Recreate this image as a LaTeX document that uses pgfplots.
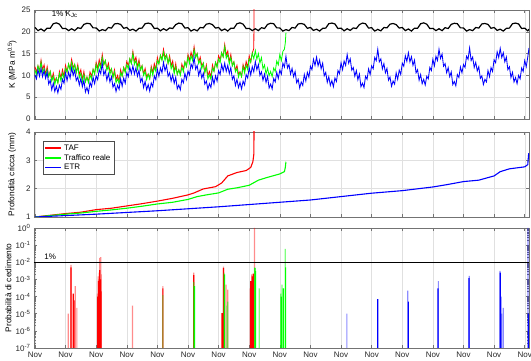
\documentclass[border=0pt]{standalone}
\usepackage{pgfplots}
\pgfplotsset{compat=1.18}
\usepackage{fontspec}
\setmainfont{Liberation Sans}
\definecolor{mygrid}{gray}{0.88}
\definecolor{myframe}{gray}{0.45}
\pgfplotsset{
  myax/.style={
    scale only axis, width=495pt, xmin=-0.03, xmax=16.14,
    xtick={0,...,16},
    xmajorgrids, major grid style={mygrid, line width=0.4pt},
    axis line style={myframe, line width=0.5pt},
    tick style={myframe, line width=0.5pt},
    major tick length=3pt, minor tick length=1.6pt,
    tick align=inside,
    tick label style={font=\fontsize{8}{9}\selectfont, black!85},
    label style={font=\fontsize{8.3}{9}\selectfont},
    /pgf/number format/assume math mode=true,
    clip=true,
  },
}
\begin{document}
\begin{tikzpicture}
\useasboundingbox (0,0) rectangle (531pt,361pt);
% ---------------- panel 1 ----------------
\begin{axis}[myax, at={(34pt,351pt)}, anchor=north west, height=109pt,
  ymin=0, ymax=25, ytick={0,5,...,25}, ymajorgrids, xticklabels={},
  ylabel={K (MPa m\textsuperscript{0.5})},
  ylabel style={at={(axis description cs:-0.044,0.5)}, anchor=center}]
\addplot[red, line width=0.8pt] table[row sep=\\] {
x y\\
0.0 12.0\\0.05 10.8\\0.1 12.2\\0.15 11.0\\0.2 13.5\\0.25 11.3\\0.3 12.4\\0.35 10.2\\0.4 12.0\\0.45 9.8\\
0.5 10.9\\0.55 9.0\\0.6 10.5\\0.65 8.6\\0.7 9.4\\0.75 8.3\\0.8 10.9\\0.85 9.4\\0.9 11.3\\0.95 9.8\\
1.0 12.3\\1.05 10.8\\1.1 12.6\\1.15 11.5\\1.2 13.7\\1.25 11.8\\1.3 12.5\\1.35 10.7\\1.4 12.5\\1.45 10.2\\
1.5 11.3\\1.55 9.0\\1.6 10.9\\1.65 8.6\\1.7 9.6\\1.75 8.6\\1.8 10.8\\1.85 9.8\\1.9 11.4\\1.95 10.4\\
2.0 13.0\\2.05 11.6\\2.1 13.6\\2.15 12.1\\2.2 14.8\\2.25 12.5\\2.3 13.4\\2.35 11.5\\2.4 12.8\\2.45 10.9\\
2.5 11.5\\2.55 9.6\\2.6 11.3\\2.65 9.0\\2.7 10.0\\2.75 8.6\\2.8 11.3\\2.85 9.9\\2.9 11.8\\2.95 10.9\\
3.0 13.2\\3.05 12.2\\3.1 13.8\\3.15 12.8\\3.2 15.5\\3.25 13.2\\3.3 14.2\\3.35 11.9\\3.4 13.6\\3.45 11.3\\
3.5 12.2\\3.55 10.3\\3.6 11.6\\3.65 9.7\\3.7 10.3\\3.75 9.3\\3.8 12.1\\3.85 10.7\\3.9 12.7\\3.95 11.4\\
4.0 14.1\\4.05 12.7\\4.1 14.6\\4.15 13.7\\4.2 16.0\\4.25 14.1\\4.3 14.7\\4.35 12.8\\4.4 14.5\\4.45 12.2\\
4.5 13.3\\4.55 10.9\\4.6 12.7\\4.65 10.3\\4.7 11.3\\4.75 10.3\\4.8 12.6\\4.85 11.5\\4.9 13.1\\4.95 12.1\\
5.0 14.8\\5.05 13.4\\5.1 15.3\\5.15 13.9\\5.2 16.6\\5.25 14.2\\5.3 15.0\\5.35 13.0\\5.4 14.2\\5.45 12.2\\
5.5 12.8\\5.55 10.7\\5.6 12.4\\5.65 9.9\\5.7 10.9\\5.75 9.6\\5.8 12.4\\5.85 11.0\\5.9 13.0\\5.95 12.1\\
6.0 14.5\\6.05 13.6\\6.1 15.2\\6.15 14.3\\6.2 17.1\\6.25 14.6\\6.3 15.6\\6.35 13.1\\6.4 14.8\\6.45 12.3\\
6.5 13.1\\6.55 11.1\\6.6 12.3\\6.65 10.3\\6.7 10.8\\6.75 9.8\\6.8 12.5\\6.85 11.2\\6.9 13.2\\6.95 11.8\\
7.0 14.5\\7.05 13.1\\7.1 15.1\\7.15 16.2\\7.16 26\\
};
\addplot[green, line width=0.8pt] table[row sep=\\] {
x y\\
0.0 11.3\\0.05 10.1\\0.1 12.2\\0.15 10.9\\0.2 13.0\\0.25 10.6\\0.3 11.6\\0.35 9.7\\0.4 11.3\\0.45 9.7\\
0.5 10.9\\0.55 8.7\\0.6 9.8\\0.65 7.9\\0.7 9.4\\0.75 8.2\\0.8 10.4\\0.85 8.7\\0.9 10.5\\0.95 9.3\\
1.0 11.6\\1.05 10.7\\1.1 12.6\\1.15 11.2\\1.2 13.0\\1.25 11.1\\1.3 12.5\\1.35 10.6\\1.4 12.0\\1.45 9.5\\
1.5 10.5\\1.55 8.5\\1.6 10.2\\1.65 8.5\\1.7 9.6\\1.75 8.3\\1.8 10.1\\1.85 9.1\\1.9 11.4\\1.95 10.3\\
2.0 12.5\\2.05 10.9\\2.1 12.8\\2.15 11.6\\2.2 14.1\\2.25 12.4\\2.3 13.4\\2.35 11.2\\2.4 12.1\\2.45 10.2\\
2.5 11.5\\2.55 9.5\\2.6 10.8\\2.65 8.3\\2.7 9.2\\2.75 8.1\\2.8 10.6\\2.85 9.8\\2.9 11.8\\2.95 10.6\\
3.0 12.5\\3.05 11.5\\3.1 13.8\\3.15 12.7\\3.2 15.0\\3.25 12.5\\3.3 13.4\\3.35 11.4\\3.4 12.9\\3.45 11.2\\
3.5 12.2\\3.55 10.0\\3.6 10.9\\3.65 9.0\\3.7 10.3\\3.75 9.2\\3.8 11.6\\3.85 10.0\\3.9 11.9\\3.95 10.9\\
4.0 13.4\\4.05 12.6\\4.1 14.6\\4.15 13.4\\4.2 15.3\\4.25 13.4\\4.3 14.7\\4.35 12.7\\4.4 14.0\\4.45 11.5\\
4.5 12.5\\4.55 10.4\\4.6 12.0\\4.65 10.2\\4.7 11.3\\4.75 10.0\\4.8 11.9\\4.85 10.8\\4.9 13.1\\4.95 12.0\\
5.0 14.3\\5.05 12.7\\5.1 14.5\\5.15 13.4\\5.2 15.9\\5.25 14.1\\5.3 15.0\\5.35 12.7\\5.4 13.5\\5.45 11.5\\
5.5 12.8\\5.55 10.6\\5.6 11.9\\5.65 9.2\\5.7 10.1\\5.75 9.1\\5.8 11.7\\5.85 10.9\\5.9 13.0\\5.95 11.8\\
6.0 13.8\\6.05 12.9\\6.1 15.2\\6.15 14.2\\6.2 16.6\\6.25 13.9\\6.3 14.8\\6.35 12.6\\6.4 14.1\\6.45 12.2\\
6.5 13.1\\6.55 10.8\\6.6 11.6\\6.65 9.6\\6.7 10.8\\6.75 9.7\\6.8 12.0\\6.85 10.5\\6.9 12.4\\6.95 11.3\\
7.0 13.8\\7.05 13.0\\7.1 15.1\\7.15 13.8\\7.2 15.7\\7.25 13.7\\7.3 15.0\\7.35 12.8\\7.4 14.1\\7.45 11.5\\
7.5 12.4\\7.55 10.3\\7.6 11.7\\7.65 9.9\\7.7 10.9\\7.75 9.7\\7.8 11.7\\7.85 10.9\\7.9 13.3\\7.95 12.4\\
8.0 14.8\\8.05 13.4\\8.1 15.5\\8.15 16.0\\8.18 17.5\\8.2 19.8\\
};
\addplot[blue, line width=0.85pt] table[row sep=\\] {
x y\\
0.0 10.1\\0.05 9.2\\0.1 11.3\\0.15 9.8\\0.2 11.6\\0.25 9.7\\0.3 11.1\\0.35 9.3\\0.4 10.7\\0.45 8.0\\
0.5 8.9\\0.55 6.7\\0.6 8.2\\0.65 6.3\\0.7 7.5\\0.75 6.0\\0.8 7.7\\0.85 6.8\\0.9 9.1\\0.95 8.2\\
1.0 10.6\\1.05 8.8\\1.1 10.7\\1.15 9.4\\1.2 11.8\\1.25 10.0\\1.3 11.2\\1.35 8.8\\1.4 9.6\\1.45 7.8\\
1.5 9.3\\1.55 7.4\\1.6 8.9\\1.65 6.2\\1.7 7.2\\1.75 6.0\\1.8 8.4\\1.85 7.4\\1.9 9.6\\1.95 8.1\\
2.0 9.9\\2.05 9.0\\2.1 11.3\\2.15 10.4\\2.2 12.8\\2.25 10.1\\2.3 11.1\\2.35 8.9\\2.4 10.4\\2.45 8.5\\
2.5 9.7\\2.55 7.3\\2.6 8.1\\2.65 6.3\\2.7 7.7\\2.75 6.8\\2.8 9.2\\2.85 7.5\\2.9 9.4\\2.95 8.2\\
3.0 10.6\\3.05 9.7\\3.1 11.9\\3.15 10.4\\3.2 12.2\\3.25 10.3\\3.3 11.7\\3.35 9.8\\3.4 11.2\\3.45 8.5\\
3.5 9.4\\3.55 7.2\\3.6 8.6\\3.65 6.7\\3.7 7.9\\3.75 6.4\\3.8 8.3\\3.85 7.4\\3.9 9.9\\3.95 9.0\\
4.0 11.4\\4.05 9.8\\4.1 11.7\\4.15 10.6\\4.2 13.0\\4.25 11.1\\4.3 12.3\\4.35 9.8\\4.4 10.6\\4.45 8.7\\
4.5 10.1\\4.55 8.2\\4.6 9.6\\4.65 6.9\\4.7 7.8\\4.75 6.7\\4.8 9.1\\4.85 8.3\\4.9 10.5\\4.95 9.1\\
5.0 11.0\\5.05 10.1\\5.1 12.6\\5.15 11.7\\5.2 14.2\\5.25 11.4\\5.3 12.3\\5.35 10.0\\5.4 11.4\\5.45 9.4\\
5.5 10.5\\5.55 8.0\\5.6 8.7\\5.65 6.8\\5.7 8.1\\5.75 7.2\\5.8 9.6\\5.85 8.0\\5.9 9.9\\5.95 8.7\\
6.0 11.1\\6.05 10.2\\6.1 12.5\\6.15 11.0\\6.2 12.8\\6.25 10.9\\6.3 12.3\\6.35 10.4\\6.4 11.8\\6.45 9.1\\
6.5 9.9\\6.55 7.7\\6.6 9.1\\6.65 7.2\\6.7 8.4\\6.75 6.9\\6.8 8.7\\6.85 7.8\\6.9 10.2\\6.95 9.4\\
7.0 11.8\\7.05 10.1\\7.1 12.0\\7.15 10.8\\7.2 13.2\\7.25 11.3\\7.3 12.5\\7.35 10.0\\7.4 10.8\\7.45 8.9\\
7.5 10.3\\7.55 8.4\\7.6 9.8\\7.65 7.1\\7.7 8.0\\7.75 6.9\\7.8 9.3\\7.85 8.5\\7.9 10.7\\7.95 9.3\\
8.0 11.2\\8.05 10.3\\8.1 12.8\\8.15 11.9\\8.2 14.4\\8.25 11.7\\8.3 12.5\\8.35 10.3\\8.4 11.6\\8.45 9.7\\
8.5 10.9\\8.55 8.3\\8.6 9.1\\8.65 7.1\\8.7 8.5\\8.75 7.7\\8.8 10.2\\8.85 8.7\\8.9 10.7\\8.95 9.6\\
9.0 12.1\\9.05 11.3\\9.1 13.7\\9.15 12.3\\9.2 14.2\\9.25 12.2\\9.3 13.5\\9.35 11.5\\9.4 12.8\\9.45 9.9\\
9.5 10.7\\9.55 8.4\\9.6 9.7\\9.65 7.7\\9.7 8.8\\9.75 7.4\\9.8 9.4\\9.85 8.6\\9.9 11.1\\9.95 10.4\\
10.0 12.9\\10.05 11.3\\10.1 13.3\\10.15 12.3\\10.2 14.8\\10.25 12.8\\10.3 13.8\\10.35 11.2\\10.4 11.8\\10.45 9.8\\
10.5 11.1\\10.55 9.0\\10.6 10.3\\10.65 7.4\\10.7 8.2\\10.75 7.2\\10.8 9.8\\10.85 9.1\\10.9 11.5\\10.95 10.2\\
11.0 12.2\\11.05 11.5\\11.1 14.1\\11.15 13.4\\11.2 16.0\\11.25 13.1\\11.3 13.8\\11.35 11.5\\11.4 12.7\\11.45 10.6\\
11.5 11.6\\11.55 8.9\\11.6 9.6\\11.65 7.5\\11.7 8.7\\11.75 8.0\\11.8 10.6\\11.85 9.1\\11.9 11.2\\11.95 10.2\\
12.0 12.8\\12.05 12.1\\12.1 14.5\\12.15 13.2\\12.2 15.2\\12.25 13.1\\12.3 14.3\\12.35 12.3\\12.4 13.5\\12.45 10.6\\
12.5 11.3\\12.55 8.9\\12.6 10.2\\12.65 8.1\\12.7 9.1\\12.75 7.8\\12.8 9.8\\12.85 9.2\\12.9 11.8\\12.95 11.1\\
13.0 13.7\\13.05 12.2\\13.1 14.4\\13.15 13.4\\13.2 16.0\\13.25 13.9\\13.3 14.9\\13.35 12.1\\13.4 12.7\\13.45 10.6\\
13.5 11.8\\13.55 9.7\\13.6 10.8\\13.65 7.9\\13.7 8.6\\13.75 7.6\\13.8 10.2\\13.85 9.5\\13.9 11.9\\13.95 10.6\\
14.0 12.5\\14.05 11.8\\14.1 14.4\\14.15 13.7\\14.2 16.3\\14.25 13.4\\14.3 14.2\\14.35 11.8\\14.4 13.0\\14.45 11.0\\
14.5 12.0\\14.55 9.3\\14.6 9.9\\14.65 7.9\\14.7 9.1\\14.75 8.5\\14.8 11.1\\14.85 9.7\\14.9 11.8\\14.95 10.9\\
15.0 13.6\\15.05 12.9\\15.1 15.4\\15.15 14.1\\15.2 16.2\\15.25 14.1\\15.3 15.2\\15.35 13.1\\15.4 14.2\\15.45 11.3\\
15.5 12.0\\15.55 9.5\\15.6 10.7\\15.65 8.5\\15.7 9.5\\15.75 8.1\\15.8 10.0\\15.85 9.2\\15.9 11.7\\15.95 10.9\\
16.0 13.4\\16.05 12.0\\16.1 14.2\\16.14 16.3\\
};
\addplot[black, line width=1.2pt] table[row sep=\\] {
x y\\
0.0 20.99\\0.1 20.27\\0.2 20.65\\0.3 20.17\\0.4 20.84\\0.5 20.80\\0.6 21.85\\0.7 22.05\\0.8 21.75\\0.9 20.75\\
1.0 20.79\\1.1 20.27\\1.2 20.70\\1.3 20.27\\1.4 20.94\\1.5 20.75\\1.6 21.70\\1.7 21.95\\1.8 21.85\\1.9 20.90\\
2.0 20.89\\2.1 20.17\\2.2 20.50\\2.3 20.27\\2.4 20.99\\2.5 20.85\\2.6 21.80\\2.7 21.90\\2.8 21.70\\2.9 20.80\\
3.0 20.99\\3.1 20.32\\3.2 20.60\\3.3 20.17\\3.4 20.79\\3.5 20.85\\3.6 21.85\\3.7 22.00\\3.8 21.80\\3.9 20.75\\
4.0 20.84\\4.1 20.22\\4.2 20.70\\4.3 20.32\\4.4 20.89\\4.5 20.75\\4.6 21.65\\4.7 22.00\\4.8 21.85\\4.9 20.85\\
5.0 20.94\\5.1 20.17\\5.2 20.55\\5.3 20.22\\5.4 20.99\\5.5 20.90\\5.6 21.75\\5.7 21.90\\5.8 21.65\\5.9 20.85\\
6.0 20.99\\6.1 20.27\\6.2 20.65\\6.3 20.17\\6.4 20.84\\6.5 20.80\\6.6 21.85\\6.7 22.05\\6.8 21.75\\6.9 20.75\\
7.0 20.79\\7.1 20.27\\7.2 20.70\\7.3 20.27\\7.4 20.94\\7.5 20.75\\7.6 21.70\\7.7 21.95\\7.8 21.85\\7.9 20.90\\
8.0 20.89\\8.1 20.17\\8.2 20.50\\8.3 20.27\\8.4 20.99\\8.5 20.85\\8.6 21.80\\8.7 21.90\\8.8 21.70\\8.9 20.80\\
9.0 20.99\\9.1 20.32\\9.2 20.60\\9.3 20.17\\9.4 20.79\\9.5 20.85\\9.6 21.85\\9.7 22.00\\9.8 21.80\\9.9 20.75\\
10.0 20.84\\10.1 20.22\\10.2 20.70\\10.3 20.32\\10.4 20.89\\10.5 20.75\\10.6 21.65\\10.7 22.00\\10.8 21.85\\10.9 20.85\\
11.0 20.94\\11.1 20.17\\11.2 20.55\\11.3 20.22\\11.4 20.99\\11.5 20.90\\11.6 21.75\\11.7 21.90\\11.8 21.65\\11.9 20.85\\
12.0 20.99\\12.1 20.27\\12.2 20.65\\12.3 20.17\\12.4 20.84\\12.5 20.80\\12.6 21.85\\12.7 22.05\\12.8 21.75\\12.9 20.75\\
13.0 20.79\\13.1 20.27\\13.2 20.70\\13.3 20.27\\13.4 20.94\\13.5 20.75\\13.6 21.70\\13.7 21.95\\13.8 21.85\\13.9 20.90\\
14.0 20.89\\14.1 20.17\\14.2 20.50\\14.3 20.27\\14.4 20.99\\14.5 20.85\\14.6 21.80\\14.7 21.90\\14.8 21.70\\14.9 20.80\\
15.0 20.99\\15.1 20.32\\15.2 20.60\\15.3 20.17\\15.4 20.79\\15.5 20.85\\15.6 21.85\\15.7 22.00\\15.8 21.80\\15.9 20.75\\
16.0 20.84\\16.1 20.22\\16.14 20.6\\
};
\node[anchor=west, font=\fontsize{8}{9}\selectfont, inner sep=0pt] at (axis cs:0.55,24.0) {1\% K\textsubscript{Jc}};
\end{axis}
% ---------------- panel 2 ----------------
\begin{axis}[myax, at={(34pt,229pt)}, anchor=north west, height=85pt,
  ymin=1, ymax=4, ytick={1,2,3,4}, ymajorgrids, xticklabels={},
  ylabel={Profondità cricca (mm)},
  ylabel style={at={(axis description cs:-0.044,0.5)}, anchor=center},
  legend style={at={(axis description cs:0.018,0.894)}, anchor=north west,
    draw=black!70, font=\fontsize{8}{9}\selectfont, row sep=-1.5pt,
    inner sep=1.5pt, cells={anchor=west}},
  legend image code/.code={\draw[#1, line width=1.6pt] (0pt,0pt) -- (16pt,0pt);}]
\addplot[red, line width=1.1pt] coordinates {
(0,1.0) (0.5,1.06) (1.0,1.12) (1.5,1.17) (2.0,1.26) (2.5,1.31) (3.0,1.39) (3.5,1.47)
(4.0,1.56) (4.5,1.66) (5.0,1.78) (5.2,1.85) (5.5,1.99) (5.9,2.07) (6.1,2.2) (6.3,2.45)
(6.6,2.57) (6.9,2.64) (7.05,2.75) (7.12,2.95) (7.15,3.2) (7.16,4.2)};
\addlegendentry{TAF}
\addplot[green, line width=1.1pt] coordinates {
(0,1.0) (0.5,1.05) (1.0,1.1) (1.5,1.14) (2.0,1.2) (2.5,1.25) (3.0,1.31) (3.5,1.38)
(4.0,1.46) (4.5,1.52) (5.0,1.62) (5.3,1.72) (5.6,1.78) (6.0,1.85) (6.3,1.98) (6.6,2.03)
(7.0,2.12) (7.3,2.3) (7.6,2.4) (8.0,2.52) (8.15,2.6) (8.18,2.75) (8.2,2.95)};
\addlegendentry{Traffico reale}
\addplot[blue, line width=1.1pt] coordinates {
(0,1.0) (1,1.05) (2,1.1) (3,1.16) (4,1.22) (5,1.29) (6,1.36) (7,1.44) (8,1.52)
(9,1.6) (10,1.72) (11,1.84) (12,1.93) (13,2.06) (13.5,2.15) (14,2.25) (14.5,2.3)
(15,2.45) (15.2,2.6) (15.5,2.7) (16,2.77) (16.1,2.85) (16.13,3.25)};
\addlegendentry{ETR}
\end{axis}
% ---------------- panel 3 ----------------
\begin{axis}[myax, at={(34pt,133pt)}, anchor=north west, height=120pt,
  ymode=log, ymin=1e-7, ymax=1, log origin=infty,
  ytick={1e-7,1e-6,1e-5,1e-4,1e-3,1e-2,1e-1,1},
  yticklabels={10\textsuperscript{-7},10\textsuperscript{-6},10\textsuperscript{-5},10\textsuperscript{-4},10\textsuperscript{-3},10\textsuperscript{-2},10\textsuperscript{-1},10\textsuperscript{0}},
  xticklabel={Nov},
  ylabel={Probabilità di cedimento},
  ylabel style={at={(axis description cs:-0.052,0.5)}, anchor=center}]
% red light
\addplot[ybar, bar width=1.2pt, bar shift=0pt, draw=none, fill=red, fill opacity=0.45] coordinates {
(1.09,1e-5) (1.18,7e-3) (1.32,4e-4) (1.37,2.2e-5) (2.04,1.5e-4) (2.07,1.5e-3) (2.10,2.5e-3)
(2.12,1.8e-2) (2.15,2e-2) (2.17,2e-3) (3.19,3e-5) (4.18,4e-4) (5.19,2.5e-3) (6.16,5.5e-3)
(6.24,5e-4) (6.30,2.5e-4) (7.03,3e-4) (7.08,2e-3) (7.17,1)};
% red dark
\addplot[ybar, bar width=1.2pt, bar shift=0pt, draw=none, fill=red] coordinates {
(1.18,5e-3) (1.25,1.5e-4) (1.28,6e-5) (2.05,1e-4) (2.08,8e-4) (2.10,1e-3) (2.12,3.5e-3)
(2.14,1e-3) (2.16,2e-4) (4.18,3e-4) (5.19,1.8e-3) (6.11,1.1e-5) (6.16,4.5e-3)
(7.05,8e-4) (7.10,1.5e-3) (7.13,2.2e-3)};
% green light
\addplot[ybar, bar width=1.2pt, bar shift=0pt, draw=none, fill=green, fill opacity=0.5] coordinates {
(4.18,1.2e-4) (5.19,7e-4) (6.18,2.5e-3) (6.27,3e-5) (6.30,5e-5) (7.18,5e-3) (7.33,3e-4)
(8.03,1.5e-4) (8.07,5e-4) (8.10,3e-4) (8.18,6e-2)};
% green dark
\addplot[ybar, bar width=1.2pt, bar shift=0pt, draw=none, fill=green] coordinates {
(5.21,4e-4) (6.19,2e-3) (7.19,4.5e-3) (7.21,3e-3) (8.05,1e-4) (8.12,3e-4) (8.19,5e-3)};
% blue light
\addplot[ybar, bar width=1.2pt, bar shift=0pt, draw=none, fill=blue, fill opacity=0.45] coordinates {
(10.19,1e-5) (12.18,2.2e-4) (13.18,8e-4) (14.19,1.6e-3) (15.19,3.2e-3) (15.24,1e-5)
(15.30,2.2e-5) (16.11,1)};
% blue dark
\addplot[ybar, bar width=1.2pt, bar shift=0pt, draw=none, fill=blue] coordinates {
(11.20,7e-5) (12.20,5e-5) (13.17,3e-4) (14.18,1.2e-3) (15.20,2.5e-3) (15.22,1e-4) (16.12,1e-5)};
\addplot[black, line width=1.1pt] coordinates {(-0.03,1e-2) (16.14,1e-2)};
\node[anchor=west, font=\fontsize{8}{9}\selectfont, inner sep=0pt] at (axis cs:0.3,2.1e-2) {1\%};
\end{axis}
\end{tikzpicture}
\end{document}
